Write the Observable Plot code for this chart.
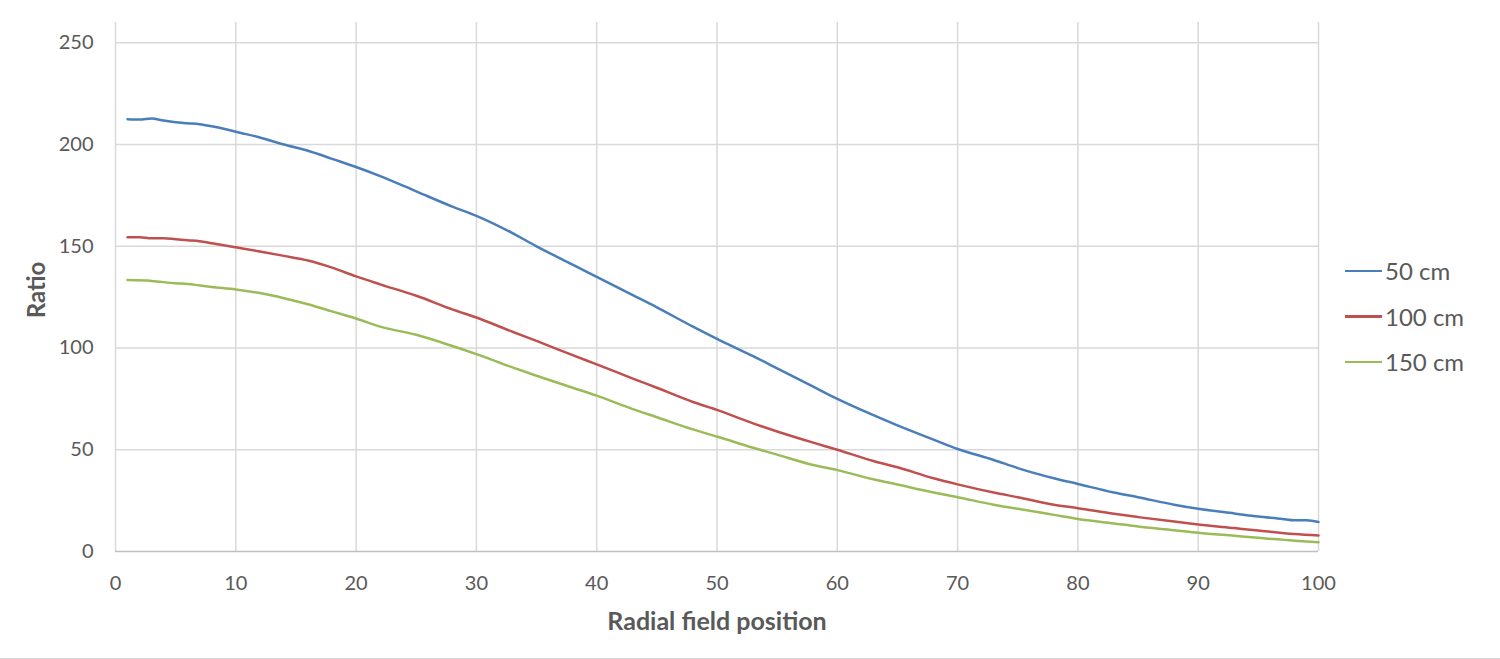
<!DOCTYPE html>
<html>
<head>
<meta charset="utf-8">
<script src="https://cdn.jsdelivr.net/npm/d3@7"></script>
<script src="https://cdn.jsdelivr.net/npm/@observablehq/plot@0.6"></script>
<style>
  body { margin: 0; background: #fff; }
  #wrap { position: relative; width: 1500px; height: 659px; overflow: hidden; border-bottom: 1px solid #d9d9d9; box-sizing: border-box; font-family: Lato, "Open Sans", sans-serif; }
  #legend { position: absolute; left: 1345px; top: 248px; font-size: 24px; color: #595959; }
  #legend div { display: flex; align-items: center; height: 45.5px; }
  #legend span.sw { display: inline-block; width: 37px; height: 2.5px; margin-right: 3px; }
</style>
</head>
<body>
<div id="wrap"><div id="chart"></div><div id="legend"></div></div>
<script>
const seriesNames = ["50 cm", "100 cm", "150 cm"];
const seriesColors = ["#4a7ebb", "#c0504d", "#9bbb59"];

const x50 = [1,2,3,4,5,6,7,8,9,10,12,14,16,18,20,22,25,28,30,33,35,38,40,43,45,48,50,53,55,58,60,63,65,68,70,73,75,78,80,83,85,88,90,93,95,97,98,99,100];
const y50 = [212.5,212.3,212.8,211.8,211,210.5,210,209,207.8,206.3,203.5,200,197,193,189,184.5,177,169.5,165,156.5,150,141,135,126,120,110.5,104.5,96,90,81,75,67,62,55,50.4,45,41,36,33.2,29,26.7,23,21,18.7,17.2,16,15.3,15.3,14.5];

const x100 = [1,2,3,4,5,6,7,8,9,10,12,14,16,18,20,22,25,28,30,33,35,38,40,43,45,48,50,53,55,58,60,63,65,68,70,73,75,78,80,83,85,88,90,93,95,98,100];
const y100 = [154.5,154.5,154,154,153.5,153,152.5,151.5,150.5,149.5,147.5,145.3,143,139.5,135.2,131.3,125.7,119,115,108,103.5,96.5,92,85,80.5,73.5,69.6,63,59,53.5,50,44.5,41.4,36,33,29,26.7,23,21.3,18.5,16.9,14.7,13.3,11.5,10.3,8.6,7.9];

const x150 = [1,3,5,6,8,10,12,14,16,18,20,22,25,28,30,33,35,38,40,43,45,48,50,53,55,58,60,63,65,68,70,73,75,78,80,83,85,88,90,93,95,98,100];
const y150 = [133.4,133,131.8,131.5,130,128.8,127,124.5,121.5,118,114.5,110.5,106.5,101,97,90.5,86.4,80.5,76.6,70,66,60,56.5,51,47.6,42.5,40,35.5,32.9,29,26.7,23,21,18,16,13.8,12.3,10.5,9.2,7.7,6.7,5.3,4.6];

const xTicks = d3.range(0, 101, 10);
const yTicks = [0, 50, 100, 150, 200, 250];

const data = [
  ...x50.map((x, i) => ({x, y: y50[i], s: seriesNames[0]})),
  ...x100.map((x, i) => ({x, y: y100[i], s: seriesNames[1]})),
  ...x150.map((x, i) => ({x, y: y150[i], s: seriesNames[2]}))
];

const chart = Plot.plot({
  width: 1500,
  height: 658,
  marginLeft: 115,
  marginRight: 182,
  marginTop: 22,
  marginBottom: 107,
  style: { fontFamily: "Lato, 'Open Sans', sans-serif", fontSize: "20px", color: "#595959", background: "#fff" },
  x: { domain: [0, 100] },
  y: { domain: [0, 260] },
  color: { domain: seriesNames, range: seriesColors },
  marks: [
    Plot.gridX(xTicks, { stroke: "#d9d9d9", strokeOpacity: 1, strokeWidth: 1.5 }),
    Plot.gridY(yTicks.filter(d => d > 0), { stroke: "#d9d9d9", strokeOpacity: 1, strokeWidth: 1.5 }),
    Plot.ruleY([0], { stroke: "#bfbfbf", strokeWidth: 1.5 }),
    Plot.axisX({ ticks: xTicks, tickSize: 0, tickPadding: 24, fontSize: 20, fill: "#595959", label: null }),
    Plot.axisY({ ticks: yTicks, tickSize: 0, tickPadding: 22, fontSize: 20, fill: "#595959", label: null }),
    Plot.line(data, { x: "x", y: "y", z: "s", stroke: "s", strokeWidth: 2.5, curve: "monotone-x" }),
    Plot.text(["Radial field position"], { frameAnchor: "bottom", lineAnchor: "middle", textAnchor: "middle", dy: 70, fontSize: 25, fontWeight: "bold", fill: "#595959" }),
    Plot.text(["Ratio"], { frameAnchor: "left", lineAnchor: "middle", textAnchor: "middle", dx: -78, dy: 3, rotate: -90, fontSize: 24, fontWeight: "bold", fill: "#595959" })
  ]
});
document.getElementById("chart").appendChild(chart);

const legend = document.getElementById("legend");
seriesNames.forEach((n, i) => {
  const row = document.createElement("div");
  row.innerHTML = `<span class="sw" style="background:${seriesColors[i]}"></span><span>${n}</span>`;
  legend.appendChild(row);
});
</script>
</body>
</html>
